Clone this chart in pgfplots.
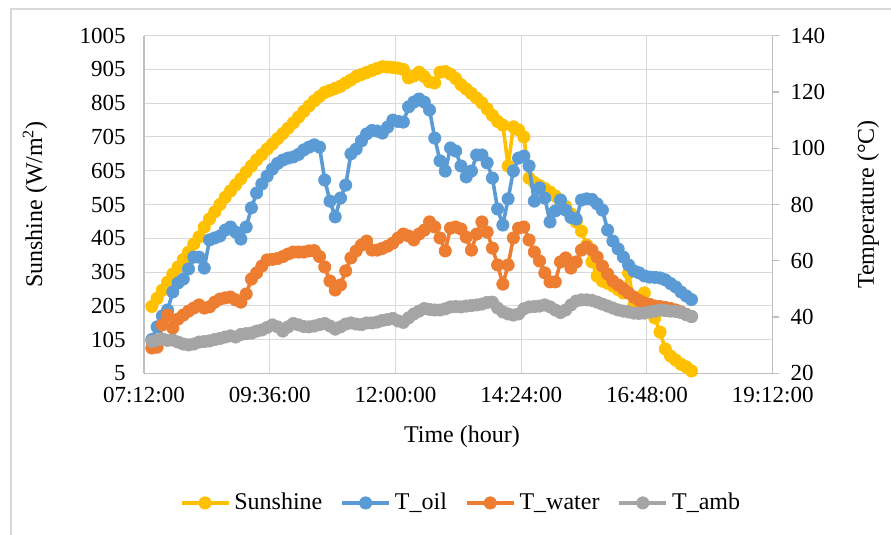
\documentclass[border=0pt]{standalone}
\usepackage{fontspec}
\setmainfont{Liberation Serif}
\usepackage{pgfplots}
\usepackage{pgfplotstable}
\pgfplotsset{compat=1.18}
\definecolor{cSun}{HTML}{FFC000}
\definecolor{cOil}{HTML}{5B9BD5}
\definecolor{cWat}{HTML}{ED7D31}
\definecolor{cAmb}{HTML}{A5A5A5}
\definecolor{cGrid}{HTML}{D9D9D9}
\definecolor{cAx}{HTML}{BFBFBF}

% m = minutes since midnight
\pgfplotstableread{
m S oil water amb
441 203 32.0 29.0 31.3
447 227 36.5 29.3 31.8
453 251 40.4 37.2 32.2
459 275 42.5 40.7 31.7
465 299 48.9 36.1 31.8
471 320 52.1 39.3 31.1
477 342 53.5 40.7 30.4
483 364 57.1 42.1 30.1
489 388 61.3 43.2 30.4
495 409 61.3 44.3 31.1
501 438 57.4 43.2 31.3
507 462 67.4 43.6 31.5
513 483 68.1 45.3 32.0
519 505 68.8 46.4 32.4
525 526 70.9 46.8 32.9
531 545 72.0 47.1 33.3
537 563 70.2 46.1 32.9
543 581 67.7 45.3 33.8
549 601 72.0 48.2 34.1
555 619 78.8 53.5 34.3
561 637 84.1 55.7 35.0
567 653 87.3 58.1 35.4
573 669 90.1 60.3 36.3
579 684 92.6 60.5 37.2
585 700 94.6 60.8 36.5
591 715 95.8 61.5 35.0
597 731 96.5 62.4 36.5
603 747 96.9 63.1 37.7
609 764 97.8 63.1 37.2
615 781 99.4 63.1 36.6
621 797 100.4 63.5 36.5
627 812 101.2 63.6 36.8
633 825 100.4 61.5 37.3
639 837 88.7 57.8 37.7
645 843 81.2 52.8 36.8
651 849 75.6 49.6 35.7
657 855 82.3 51.4 36.5
663 865 86.9 56.4 37.5
669 874 98.0 61.0 37.9
675 884 99.7 63.5 37.5
681 890 102.6 65.6 37.3
687 896 105.1 67.0 37.9
693 902 106.3 63.8 37.9
699 908 106.1 63.8 38.2
705 913 105.4 64.4 38.8
711 912 107.5 65.2 39.1
717 911 110.0 66.3 39.5
723 909 109.5 68.1 38.6
729 905 109.3 69.5 38.1
735 880 114.7 68.8 39.7
741 886 116.4 67.4 41.1
747 897 117.5 69.5 42.1
753 884 116.4 70.9 43.0
759 868 113.6 73.8 42.7
765 865 103.6 72.0 42.5
771 897 95.5 68.1 42.5
777 899 91.9 63.5 42.9
783 891 100.1 71.6 43.6
789 878 99.0 72.0 43.7
795 860 93.7 71.3 43.6
801 847 89.8 68.4 43.9
807 834 91.9 63.8 44.1
813 820 97.6 69.5 44.3
819 806 97.6 73.8 44.6
825 788 94.8 70.2 45.2
831 769 89.4 64.5 45.3
837 751 78.4 58.5 43.2
843 740 72.7 51.7 41.8
849 619 82.0 58.5 41.1
855 735 91.9 68.1 40.7
861 726 96.5 71.6 41.1
867 705 97.2 72.0 42.9
873 583 93.7 67.4 43.6
879 570 81.2 63.1 43.7
885 561 85.9 59.9 43.9
891 552 82.3 55.7 44.3
897 542 73.8 52.5 43.6
903 530 77.7 52.5 42.5
909 515 81.6 59.6 41.6
915 499 78.0 61.0 42.5
921 477 75.4 57.4 44.3
927 453 74.8 59.6 45.7
933 426 81.6 63.8 46.1
939 385 82.0 64.9 46.1
945 335 81.8 63.8 45.9
951 293 80.2 61.3 45.3
957 278 78.0 58.1 44.6
963 272 70.9 55.3 43.9
969 264 67.0 52.8 43.2
975 253 64.2 51.4 42.5
981 243 61.3 50.0 42.1
987 302 58.5 48.5 41.8
993 207 56.4 47.1 41.4
999 192 55.7 45.9 41.3
1005 243 54.6 45.0 41.4
1011 187 54.2 44.5 41.8
1017 169 54.1 43.9 42.1
1023 127 53.9 43.7 42.5
1029 77 53.2 43.4 42.3
1035 56 51.9 43.0 42.1
1041 44 50.7 42.5 42.0
1047 32 48.9 41.8 41.6
1053 24 47.5 40.9 40.9
1059 12 46.2 40.2 40.2
}\datatab

\pgfplotsset{
  ser/.style={color=#1, line width=1.8pt, line join=round, mark=*, mark size=3.1pt,
    mark options={solid, fill=#1, draw=#1, line width=0.3pt}},
}

\begin{document}
\begin{tikzpicture}
\useasboundingbox (-72pt,-80.85pt) rectangle (373.5pt,186.65pt);
\draw[cGrid, line width=0.8pt] (-66.5pt,-82pt) -- (-66.5pt,182.15pt) -- (375pt,182.15pt);
\begin{axis}[
  at={(0pt,0pt)}, anchor=south west,
  scale only axis, width=314.35pt, height=168.8pt,
  xmin=432, xmax=1152, ymin=5, ymax=1005,
  xtick={432,576,720,864,1008,1152},
  xticklabels={07:12:00,09:36:00,12:00:00,14:24:00,16:48:00,19:12:00},
  ytick={5,105,205,305,405,505,605,705,805,905,1005},
  grid=major, grid style={cGrid, line width=0.5pt},
  axis x line*=bottom, axis y line*=left,
  axis line style={cAx, line width=0.6pt, -},
  major tick length=0pt,
  tick label style={font=\fontsize{11.5}{13}\selectfont},
  /pgf/number format/assume math mode=true,
  /pgf/number format/1000 sep={},
  yticklabel style={xshift=-5.7pt},
  xticklabel style={yshift=-3.6pt},
  xlabel={Time (hour)}, ylabel={Sunshine (W/m\textsuperscript{2})},
  label style={font=\fontsize{12}{14}\selectfont},
  xlabel style={at={(axis description cs:0.5057,-0.1887)}, anchor=center},
  ylabel style={at={(axis description cs:-0.1734,0.5)}, anchor=center},
]
\addplot[ser=cSun] table[x=m,y=S]{\datatab};
\end{axis}
\begin{axis}[
  at={(0pt,0pt)}, anchor=south west,
  scale only axis, width=314.35pt, height=168.8pt,
  xmin=432, xmax=1152, ymin=20, ymax=140,
  ytick={20,40,60,80,100,120,140},
  axis x line=none, axis y line*=right,
  axis line style={cAx, line width=0.6pt, -},
  tick align=outside, major tick length=3.3pt,
  major tick style={cAx, line width=0.6pt},
  tick label style={font=\fontsize{11.5}{13}\selectfont},
  /pgf/number format/assume math mode=true,
  yticklabel style={xshift=2.2pt},
  ylabel={Temperature (°C)},
  label style={font=\fontsize{12}{14}\selectfont},
  ylabel style={at={(axis description cs:1.1516,0.5)}, anchor=center},
  legend columns=4,
  legend cell align=left,
  legend style={at={(axis description cs:0.5057,-0.384)}, anchor=center, draw=none,
    font=\fontsize{12}{14}\selectfont,
    /tikz/every even column/.append style={column sep=7pt}},
  legend image code/.code={\draw[mark repeat=2,mark phase=2] plot coordinates {(0pt,0pt) (11.75pt,0pt) (23.5pt,0pt)};},
]
\addlegendimage{ser=cSun}
\addlegendentry{Sunshine}
\addplot[ser=cOil] table[x=m,y=oil]{\datatab};
\addlegendentry{T\_oil}
\addplot[ser=cWat] table[x=m,y=water]{\datatab};
\addlegendentry{T\_water}
\addplot[ser=cAmb] table[x=m,y=amb]{\datatab};
\addlegendentry{T\_amb}
\end{axis}
\end{tikzpicture}
\end{document}
